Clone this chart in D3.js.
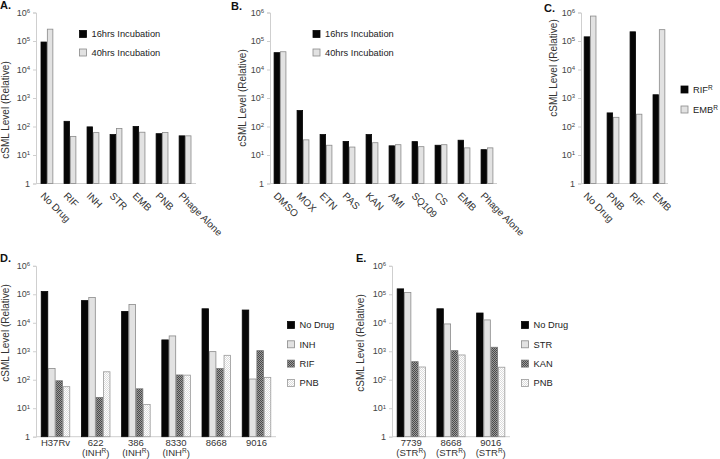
<!DOCTYPE html>
<html><head><meta charset="utf-8">
<script src="https://cdn.jsdelivr.net/npm/d3@7"></script>
<style>body{margin:0;background:#fff}svg{display:block;font-family:"Liberation Sans",Arial,sans-serif}</style>
</head><body><svg id="c" width="720" height="459"></svg>
<script>
// ---------- data ----------
const tickVals = [1, 10, 100, 1e3, 1e4, 1e5, 1e6];
const tickExp = ["", "1", "2", "3", "4", "5", "6"];

const catA = ["No Drug", "RIF", "INH", "STR", "EMB", "PNB", "Phage Alone"];
const a16 = [9.2e4, 152, 97, 52, 100, 56, 47];
const a40 = [2.6e5, 45, 61, 85, 63, 62, 47];

const catB = ["DMSO", "MOX", "ETN", "PAS", "KAN", "AMI", "SQ109", "CS", "EMB", "Phage Alone"];
const b16 = [3.9e4, 362, 52, 30, 52, 21, 29.5, 22, 33, 15.4];
const b40 = [4.2e4, 34, 22, 19, 27, 23, 19.6, 23, 17.8, 17.8];

const catC = ["No Drug", "PNB", "RIF", "EMB"];
const cRIFR = [1.4e5, 300, 2.1e5, 1300];
const cEMBR = [7.5e5, 210, 270, 2.5e5];

const strainD = ["H37Rv", "622", "386", "8330", "8668", "9016"];
const noteD = ["", "INH", "INH", "INH", "", ""];
const dNoDrug = [1.25e5, 6.0e4, 2.5e4, 2500, 3.1e4, 2.8e4];
const dINH = [250, 7.7e4, 4.4e4, 3450, 970, 106];
const dRIF = [92, 24, 48, 147, 250, 1050];
const dPNB = [57, 190, 13.6, 145, 720, 121];

const strainE = ["7739", "8668", "9016"];
const noteE = ["STR", "STR", "STR"];
const eNoDrug = [1.55e5, 3.1e4, 2.2e4];
const eSTR = [1.15e5, 9100, 1.26e4];
const eKAN = [430, 1050, 1380];
const ePNB = [280, 740, 275];

// ---------- styles ----------
const svg = d3.select("#c");
const defs = svg.append("defs");
const pDark = defs.append("pattern").attr("id", "pDark").attr("width", 2).attr("height", 2).attr("patternUnits", "userSpaceOnUse");
pDark.append("rect").attr("width", 2).attr("height", 2).attr("fill", "#9a9a9a");
pDark.append("rect").attr("width", 1).attr("height", 1).attr("fill", "#4a4a4a");
pDark.append("rect").attr("x", 1).attr("y", 1).attr("width", 1).attr("height", 1).attr("fill", "#4a4a4a");
const pLight = defs.append("pattern").attr("id", "pLight").attr("width", 2).attr("height", 2).attr("patternUnits", "userSpaceOnUse");
pLight.append("rect").attr("width", 2).attr("height", 2).attr("fill", "#ffffff");
pLight.append("rect").attr("width", 1).attr("height", 1).attr("fill", "#dcdcdc");
pLight.append("rect").attr("x", 1).attr("y", 1).attr("width", 1).attr("height", 1).attr("fill", "#dcdcdc");

const STY = {
  black: {fill: "#060606", stroke: "#060606"},
  grey: {fill: "#e2e2e2", stroke: "#8a8a8a"},
  dark: {fill: "url(#pDark)", stroke: "#777"},
  light: {fill: "url(#pLight)", stroke: "#9a9a9a"}
};

function panel(o) {
  const g = svg.append("g");
  const y = d3.scaleLog().domain([1, 1e6]).range(o.yr);
  const x = d3.scaleBand().domain(o.cats).range(o.xr).paddingInner(o.pi).paddingOuter(o.po);
  const xs = d3.scaleBand().domain(d3.range(o.series.length)).range([0, x.bandwidth()]);
  // y axis
  const ya = d3.axisLeft(y).tickValues(tickVals).tickSize(3).tickPadding(3).tickFormat(() => "");
  const ag = g.append("g").attr("transform", `translate(${o.xr[0]},0)`).call(ya);
  ag.select(".domain").attr("stroke", "#cfcfcf");
  ag.selectAll(".tick line").attr("stroke", "#cfcfcf");
  ag.selectAll(".tick text").remove();
  tickVals.forEach((v, i) => {
    const t = g.append("text").attr("x", o.xr[0] - 6).attr("y", y(v)).attr("dy", "0.35em")
      .attr("text-anchor", "end").attr("fill", "#444").style("font-size", "9px");
    if (i === 0) t.text("1");
    else { t.append("tspan").text("10"); t.append("tspan").attr("dy", "-0.45em").style("font-size", "6px").text(tickExp[i]); }
  });
  // x axis
  g.append("line").attr("x1", o.xr[0]).attr("x2", o.xr[1]).attr("y1", o.yr[0]).attr("y2", o.yr[0]).attr("stroke", "#cfcfcf");
  // bars
  o.series.forEach((s, si) => {
    g.append("g").selectAll("rect").data(s.vals).join("rect")
      .attr("x", (d, i) => x(o.cats[i]) + xs(si) + 0.4)
      .attr("width", xs.bandwidth() - 0.8)
      .attr("y", d => y(d))
      .attr("height", d => o.yr[0] - y(d))
      .attr("fill", STY[s.style].fill).attr("stroke", STY[s.style].stroke).attr("stroke-width", 0.8);
  });
  // category labels
  if (o.rotate) {
    o.cats.forEach(c => {
      const cx = x(c) + x.bandwidth() / 2 - 7, cy = o.yr[0] + 13;
      g.append("text").attr("transform", `translate(${cx},${cy}) rotate(45)`)
        .attr("fill", "#333").style("font-size", "10px").text(c);
    });
  } else {
    o.cats.forEach((c, i) => {
      const cx = x(c) + x.bandwidth() / 2;
      g.append("text").attr("x", cx).attr("y", o.yr[0] + 9).attr("text-anchor", "middle")
        .attr("fill", "#333").style("font-size", "9.5px").text(c);
      if (o.notes[i]) {
        const t = g.append("text").attr("x", cx).attr("y", o.yr[0] + 19).attr("text-anchor", "middle")
          .attr("fill", "#333").style("font-size", "9.5px");
        t.append("tspan").text("(" + o.notes[i]);
        t.append("tspan").attr("dy", "-0.4em").style("font-size", "6.5px").text("R");
        t.append("tspan").attr("dy", "0.4em").text(")");
      }
    });
  }
  // y title
  g.append("text").attr("transform", `translate(${o.tx},${o.ty}) rotate(-90)`).attr("text-anchor", "middle")
    .attr("fill", "#333").style("font-size", "10px").text("cSML Level (Relative)");
  // panel letter
  g.append("text").attr("x", o.lx).attr("y", o.ly).attr("fill", "#111").style("font-size", "11px")
    .style("font-weight", "bold").text(o.letter);
  // legend
  o.series.forEach((s, si) => {
    const ly = o.leg.y + si * o.leg.dy;
    g.append("rect").attr("x", o.leg.x).attr("y", ly - 3.5).attr("width", 7).attr("height", 7)
      .attr("fill", STY[s.style].fill).attr("stroke", STY[s.style].stroke).attr("stroke-width", 0.8);
    const t = g.append("text").attr("x", o.leg.x + 12).attr("y", ly).attr("dy", "0.35em")
      .attr("fill", "#222").style("font-size", "9.3px");
    t.append("tspan").text(s.name);
    if (s.sup) t.append("tspan").attr("dy", "-0.45em").style("font-size", "6.5px").text(s.sup);
  });
}

panel({letter: "A.", lx: 0, ly: 9, cats: catA, xr: [36, 196], yr: [183.5, 12.5], pi: 0.45, po: 0.2, rotate: true,
  tx: 9, ty: 110,
  series: [{name: "16hrs Incubation", vals: a16, style: "black"}, {name: "40hrs Incubation", vals: a40, style: "grey"}],
  leg: {x: 79.5, y: 34, dy: 18.5}});

panel({letter: "B.", lx: 231, ly: 10, cats: catB, xr: [270, 497], yr: [183.5, 12.5], pi: 0.45, po: 0.16, rotate: true,
  tx: 246, ty: 98,
  series: [{name: "16hrs Incubation", vals: b16, style: "black"}, {name: "40hrs Incubation", vals: b40, style: "grey"}],
  leg: {x: 313, y: 34, dy: 18.5}});

panel({letter: "C.", lx: 544, ly: 12, cats: catC, xr: [581, 668], yr: [183.5, 12.5], pi: 0.45, po: 0.12, rotate: true,
  tx: 557, ty: 68,
  series: [{name: "RIF", sup: "R", vals: cRIFR, style: "black"}, {name: "EMB", sup: "R", vals: cEMBR, style: "grey"}],
  leg: {x: 681, y: 89.5, dy: 20}});

panel({letter: "D.", lx: 0, ly: 262, cats: strainD, notes: noteD, xr: [36, 276], yr: [436.7, 265.8], pi: 0.27, po: 0.12, rotate: false,
  tx: 9, ty: 333,
  series: [{name: "No Drug", vals: dNoDrug, style: "black"}, {name: "INH", vals: dINH, style: "grey"},
           {name: "RIF", vals: dRIF, style: "dark"}, {name: "PNB", vals: dPNB, style: "light"}],
  leg: {x: 287.5, y: 325, dy: 19.3}});

panel({letter: "E.", lx: 356, ly: 262, cats: strainE, notes: noteE, xr: [392, 510], yr: [436.7, 265.8], pi: 0.27, po: 0.12, rotate: false,
  tx: 364, ty: 343,
  series: [{name: "No Drug", vals: eNoDrug, style: "black"}, {name: "STR", vals: eSTR, style: "grey"},
           {name: "KAN", vals: eKAN, style: "dark"}, {name: "PNB", vals: ePNB, style: "light"}],
  leg: {x: 521.5, y: 325, dy: 19.3}});
</script></body></html>
